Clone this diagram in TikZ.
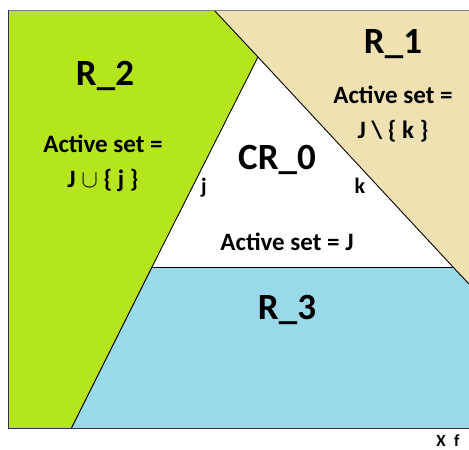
\documentclass[tikz,border=0pt]{standalone}
\usepackage{fontspec}
\setmainfont{Carlito}
\usetikzlibrary{calc}
\definecolor{regiongreen}{HTML}{B5E61D}
\definecolor{regiontan}{HTML}{EFE1B1}
\definecolor{regionblue}{HTML}{99D9EA}

\begin{document}
\begin{tikzpicture}[x=1pt, y=-1pt,
    boundary/.style={black, line width=0.9pt},
    regionname/.style={font=\fontsize{37}{37}\selectfont\bfseries},
    setlabel/.style={font=\fontsize{25}{35}\selectfont\bfseries, align=center},
    facetlabel/.style={font=\fontsize{22}{22}\selectfont\bfseries}]
    \useasboundingbox (0,0) rectangle (469,450);
    % corners of the plotted window
    \coordinate (tl) at (8,10);
    \coordinate (tr) at (469,10);
    \coordinate (bl) at (8,428);
    \coordinate (br) at (469,428);
    % critical region CR_0
    \coordinate (apex) at (258,57);
    \coordinate (left) at (152,267);
    \coordinate (right) at (453,267);
    % facet lines continued to the window
    \coordinate (ktop) at (214,10);
    \coordinate (kend) at (469,284);
    \coordinate (jend) at (71.5,428);

    \fill[regiongreen] (tl) -- (ktop) -- (apex) -- (left) -- (jend) -- (bl) -- cycle;
    \fill[regiontan] (ktop) -- (tr) -- (kend) -- cycle;
    \fill[white] (apex) -- (right) -- (left) -- cycle;
    \fill[regionblue] (left) -- (right) -- (kend) -- (br) -- (jend) -- cycle;

    \draw[boundary] (ktop) -- (apex) -- (right) -- (kend);
    \draw[boundary] (apex) -- (left) -- (jend);
    \draw[boundary] (left) -- (right);
    \draw[gray, line width=1pt] (tl) -- (tr);
    \draw[black!80, line width=1pt] (tl) -- (bl) -- (br);

    \node[regionname] (rtwo) at (105,76) {R\_2};
    \node[setlabel] (rtwoset) at (103,163) {Active set =\\J $\cup$ \{ j \}};
    \node[regionname] (rone) at (393,44) {R\_1};
    \node[setlabel] (roneset) at (393,114) {Active set =\\J \textbackslash\ \{ k \}};
    \node[regionname] (crzero) at (277,160) {CR\_0};
    \node[setlabel] (crzeroset) at (287,242) {Active set = J};
    \node[regionname] (rthree) at (287,310) {R\_3};
    \node[facetlabel] (jlabel) at (204,188) {j};
    \node[facetlabel] (klabel) at (360,186) {k};
    \node[font=\fontsize{17}{17}\selectfont\bfseries, inner sep=0pt] (xf) at (448,441) {X\enspace f};
\end{tikzpicture}
\end{document}
